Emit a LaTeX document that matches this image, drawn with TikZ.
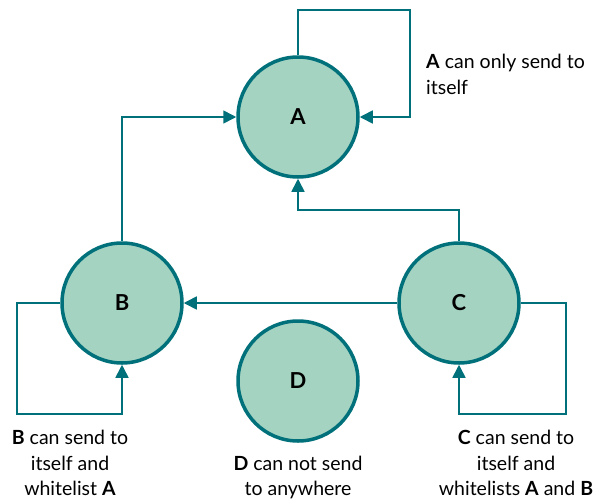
\documentclass[tikz,border=0pt]{standalone}
\usepackage{fontspec}
\setmainfont{Lato}
\usepackage{xcolor}
\definecolor{wlTeal}{RGB}{0, 112, 122}
\definecolor{wlFill}{RGB}{165, 211, 194}
\usetikzlibrary{arrows.meta, positioning}

\begin{document}
\begin{tikzpicture}[x=1pt, y=-1pt,
  peer/.style={circle, draw=wlTeal, fill=wlFill, line width=3.5pt,
               minimum size=120pt, inner sep=0pt, font=\fontsize{22}{25}\selectfont\bfseries},
  arrow/.style={-{Triangle[length=13pt, width=13pt]}, draw=wlTeal, line width=1.6pt},
  note/.style={font=\fontsize{19.5}{25.5}\selectfont, align=center, inner sep=0pt},
]
  \useasboundingbox (0,0) rectangle (608,501);

  \node[peer] (A) at (298,117) {A};
  \node[peer] (B) at (122,303) {B};
  \node[peer] (C) at (459,303) {C};
  \node[peer] (D) at (298,381) {D};

  \coordinate (aloop) at (410,10);
  \coordinate (bloop) at (17,414);
  \coordinate (cloop) at (566,414);
  \coordinate (cbend) at (298,210);

  \draw[arrow] (A.north) |- (aloop) |- (A.east);
  \draw[arrow] (B.north) |- (A.west);
  \draw[arrow] (C.north) |- (cbend) -- (A.south);
  \draw[arrow] (C.west) -- (B.east);
  \draw[arrow] (B.west) -| (bloop) -| (B.south);
  \draw[arrow] (C.east) -| (cloop) -| (C.south);

  \node[note, align=left, anchor=north west] (na) at (426,54)
    {\textbf{A} can only send to\\itself};
  \node[note, anchor=north] (nb) at (70,430)
    {\textbf{B} can send to\\itself and\\whitelist \textbf{A}};
  \node[note, anchor=north] (nd) at (298,455.5)
    {\textbf{D} can not send\\to anywhere};
  \node[note, anchor=north] (nc) at (516,430)
    {\textbf{C} can send to\\itself and\\whitelists \textbf{A} and \textbf{B}};
\end{tikzpicture}
\end{document}
